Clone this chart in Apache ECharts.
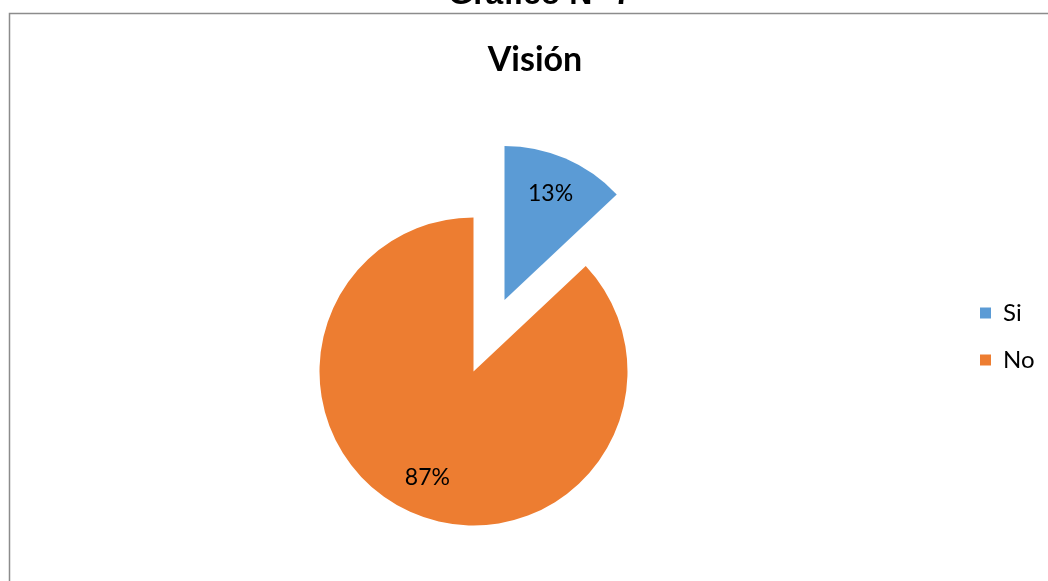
<!DOCTYPE html>
<html>
<head>
<meta charset="utf-8">
<title>Visión</title>
<script src="https://cdn.jsdelivr.net/npm/echarts@6/dist/echarts.min.js"></script>
<style>
  html, body { margin: 0; padding: 0; background: #ffffff; }
  #chart { width: 1048px; height: 581px; }
</style>
</head>
<body>
<div id="chart"></div>
<script>
// Survey answers for "Visión"
const categories = ['Si', 'No'];
const shares = [13, 87];
const colors = ['#5B9BD5', '#ED7D31'];

const slices = categories.map((name, i) => ({
  name: name,
  value: shares[i],
  selected: i === 0,
  itemStyle: { color: colors[i] }
}));

const pieCenter = [473.5, 371.5];
const pieRadius = 154;
const explode = 78;

const chart = echarts.init(document.getElementById('chart'), null, { renderer: 'canvas' });

chart.setOption({
  animation: false,
  backgroundColor: '#ffffff',
  graphic: [
    {
      type: 'rect',
      silent: true,
      shape: { x: 9.5, y: 13.5, width: 1200, height: 800 },
      style: { fill: 'none', stroke: '#8c8c8c', lineWidth: 1.5 }
    },
    {
      type: 'text',
      silent: true,
      x: 540,
      y: -5,
      style: {
        text: 'Gráfico N° 7',
        font: 'bold 32px "Liberation Sans", Arial, sans-serif',
        fill: '#000000',
        align: 'center',
        verticalAlign: 'middle'
      }
    },
    {
      type: 'text',
      silent: true,
      x: 535,
      y: 60,
      style: {
        text: 'Visión',
        font: 'bold 34px Lato, "Open Sans", sans-serif',
        fill: '#000000',
        align: 'center',
        verticalAlign: 'middle'
      }
    }
  ],
  legend: {
    orient: 'vertical',
    left: 980,
    top: 301,
    padding: 0,
    itemWidth: 11,
    itemHeight: 11,
    itemGap: 23,
    icon: 'rect',
    selectedMode: false,
    data: categories,
    textStyle: {
      fontFamily: 'Lato, "Open Sans", sans-serif',
      fontSize: 24,
      color: '#000000',
      padding: [0, 0, 0, 7]
    }
  },
  series: [
    {
      type: 'pie',
      name: 'Visión',
      center: pieCenter,
      radius: [0, pieRadius],
      startAngle: 90,
      clockwise: true,
      selectedMode: 'single',
      selectedOffset: explode,
      avoidLabelOverlap: false,
      label: { show: false },
      labelLine: { show: false },
      emphasis: { disabled: true },
      itemStyle: { borderWidth: 0 },
      data: slices
    },
    {
      // transparent ring that carries the percentage labels a bit further out
      type: 'pie',
      name: 'Etiquetas',
      silent: true,
      center: pieCenter,
      radius: [72, pieRadius],
      startAngle: 90,
      clockwise: true,
      selectedMode: 'single',
      selectedOffset: explode,
      avoidLabelOverlap: false,
      emphasis: { disabled: true },
      itemStyle: { color: 'rgba(0,0,0,0)', borderWidth: 0 },
      label: {
        show: true,
        position: 'inside',
        formatter: p => Math.round(p.percent) + '%',
        fontFamily: 'Lato, "Open Sans", sans-serif',
        fontSize: 23,
        color: '#000000'
      },
      labelLine: { show: false },
      data: slices.map(s => ({ name: s.name, value: s.value, selected: s.selected }))
    }
  ]
});
</script>
</body>
</html>
